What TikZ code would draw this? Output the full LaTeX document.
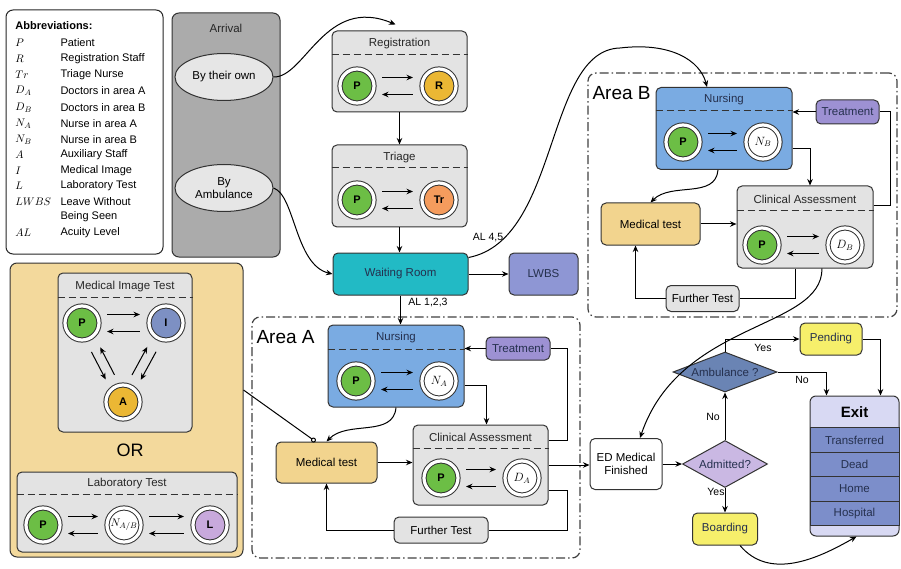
\documentclass[tikz,border=0pt]{standalone}
\usepackage{fontspec}
\setmainfont{Liberation Sans}
\usepackage{xcolor}
\usetikzlibrary{arrows.meta, shapes.geometric}

\definecolor{arrgray}{HTML}{ABABAB}
\definecolor{ellgray}{HTML}{E6E6E6}
\definecolor{boxgray}{HTML}{E3E3E3}
\definecolor{nurseblue}{HTML}{7AABE2}
\definecolor{waitteal}{HTML}{22BAC5}
\definecolor{lwbsblue}{HTML}{8E96D4}
\definecolor{treatpurple}{HTML}{9D91D3}
\definecolor{testtan}{HTML}{F2D48E}
\definecolor{paneltan}{HTML}{F3D99C}
\definecolor{pendyellow}{HTML}{F6EF6B}
\definecolor{ambblue}{HTML}{6A84B4}
\definecolor{admlilac}{HTML}{CAB8E3}
\definecolor{exithead}{HTML}{D8D9F3}
\definecolor{exitrow}{HTML}{7C8ECA}
\definecolor{ptgreen}{HTML}{6CBE45}
\definecolor{staffgold}{HTML}{EBB734}
\definecolor{triorange}{HTML}{F59C5D}
\definecolor{imgblue}{HTML}{7D90C3}
\definecolor{lablilac}{HTML}{C8A9DC}
\definecolor{navy}{HTML}{25304E}
\definecolor{edge}{HTML}{333333}

\begin{document}
\begin{tikzpicture}[x=1pt, y=-1pt, line width=1pt, every text node part/.style={align=center}, font=\fontsize{11.5}{13}\selectfont, >={Stealth[length=6.5pt, width=5.5pt]}]
			\tikzstyle{station} = [draw=edge, rectangle, rounded corners=5pt]
			\tikzstyle{boxtitle} = [text=black!85]
			\tikzstyle{divider} = [draw=edge, dash pattern=on 7pt off 4pt]
			\tikzstyle{actor} = [circle, draw=edge, double=white, double distance=3.2pt, minimum size=34pt, inner sep=0pt, font=\bfseries\fontsize{11}{13}\selectfont]
			\tikzstyle{fwd} = [draw, ->, shorten <=25pt, shorten >=26pt]
			\tikzstyle{bwd} = [draw, <-, shorten <=25pt, shorten >=26pt]
			\tikzstyle{area} = [draw=black!75, line width=1.2pt, rounded corners=8pt, dash pattern=on 9pt off 3pt on 1.5pt off 3pt]
			\tikzstyle{sym} = [anchor=west, inner sep=0pt, font=\fontsize{11}{13}\selectfont]
			\tikzstyle{lbl} = [font=\fontsize{10.5}{12}\selectfont]
			\useasboundingbox (0,0) rectangle (901,569);

			% abbreviations
			\path (84.5,132) node[station, draw=black!85, fill=white, rounded corners=7pt, minimum width=157pt, minimum height=244pt] (abbr) {};
			\path (15,26) node[sym, font=\bfseries\fontsize{11}{13}\selectfont] (abbrT) {Abbreviations:};
			\path (15,43) node[sym] (sP) {$P$};
			\path (60,43) node[sym] (tP) {Patient};
			\path (15,59) node[sym] (sR) {$R$};
			\path (60,59) node[sym] (tR) {Registration Staff};
			\path (15,75) node[sym] (sTr) {$Tr$};
			\path (60,75) node[sym] (tTr) {Triage Nurse};
			\path (15,91) node[sym] (sDA) {$D_A$};
			\path (60,91) node[sym] (tDA) {Doctors in area A};
			\path (15,107.5) node[sym] (sDB) {$D_B$};
			\path (60,107.5) node[sym] (tDB) {Doctors in area B};
			\path (15,123.5) node[sym] (sNA) {$N_A$};
			\path (60,123.5) node[sym] (tNA) {Nurse in area A};
			\path (15,139.5) node[sym] (sNB) {$N_B$};
			\path (60,139.5) node[sym] (tNB) {Nurse in area B};
			\path (15,155) node[sym] (sA) {$A$};
			\path (60,155) node[sym] (tA) {Auxiliary Staff};
			\path (15,170.5) node[sym] (sI) {$I$};
			\path (60,170.5) node[sym] (tI) {Medical Image};
			\path (15,186) node[sym] (sL) {$L$};
			\path (60,186) node[sym] (tL) {Laboratory Test};
			\path (15,201.5) node[sym] (sLW) {$LWBS$};
			\path (60,201.5) node[sym] (tLW) {Leave Without};
			\path (60,217) node[sym] (tLW2) {Being Seen};
			\path (15,233) node[sym] (sAL) {$AL$};
			\path (60,233) node[sym] (tAL) {Acuity Level};

			% arrival
			\path (226,135) node[station, fill=arrgray, rounded corners=7pt, minimum width=108pt, minimum height=244pt] (arrival) {};
			\path (226,28) node[boxtitle] (arrT) {Arrival};
			\path (224,77) node[draw=edge, ellipse, fill=ellgray, minimum width=98pt, minimum height=47pt, inner sep=0pt] (own) {By their own};
			\path (224,188) node[draw=edge, ellipse, fill=ellgray, minimum width=98pt, minimum height=47pt, inner sep=0pt] (byamb) {By\\Ambulance};

			% registration and triage
			\path (399.5,71.5) node[station, fill=boxgray, minimum width=135pt, minimum height=81pt] (reg) {};
			\path (399.5,44) node[boxtitle] (regT) {Registration};
			\path[divider] ([yshift=-24pt]reg.north west) -- ([yshift=-24pt]reg.north east);
			\path (357,86) node[actor, fill=ptgreen] (regP) {P};
			\path (439,86) node[actor, fill=staffgold] (regR) {R};
			\path (399.5,186) node[station, fill=boxgray, minimum width=135pt, minimum height=82pt] (tri) {};
			\path (399.5,158) node[boxtitle] (triT) {Triage};
			\path[divider] ([yshift=-23pt]tri.north west) -- ([yshift=-23pt]tri.north east);
			\path (357,200) node[actor, fill=ptgreen] (triP) {P};
			\path (439,200) node[actor, fill=triorange] (triTr) {Tr};
			\path (400.5,274) node[station, fill=waitteal, minimum width=135pt, minimum height=42pt, text=navy] (wait) {Waiting Room};
			\path (543.5,274) node[station, fill=lwbsblue, minimum width=69pt, minimum height=42pt, text=navy] (lwbs) {LWBS};

			% area A
			\path (416,437.5) node[area, minimum width=328pt, minimum height=241pt] (areaA) {};
			\path (256,337) node[anchor=west, inner sep=0pt, font=\fontsize{19}{22}\selectfont] (areaAT) {Area A};
			\path (396,366) node[station, fill=nurseblue, minimum width=136pt, minimum height=82pt] (nursA) {};
			\path (396,338) node[boxtitle, text=navy] (nursAT) {Nursing};
			\path[divider] ([yshift=-25pt]nursA.north west) -- ([yshift=-25pt]nursA.north east);
			\path (356,381) node[actor, fill=ptgreen] (nursAP) {P};
			\path (439,381) node[actor, fill=white, font=\fontsize{12}{13}\selectfont] (nursAN) {$N_A$};
			\path (518,348.5) node[station, fill=treatpurple, minimum width=64pt, minimum height=23pt, inner sep=0pt, text=navy] (treatA) {Treatment};
			\path (480.5,465) node[station, fill=boxgray, minimum width=135pt, minimum height=80pt] (clinA) {};
			\path (480.5,437) node[boxtitle] (clinAT) {Clinical Assessment};
			\path[divider] ([yshift=-24pt]clinA.north west) -- ([yshift=-24pt]clinA.north east);
			\path (441,478) node[actor, fill=ptgreen] (clinAP) {P};
			\path (522,478) node[actor, fill=white, font=\fontsize{12}{13}\selectfont] (clinAD) {$D_A$};
			\path (326.5,462.5) node[station, fill=testtan, minimum width=101pt, minimum height=41pt] (medA) {Medical test};
			\path (441,530) node[station, fill=boxgray, minimum width=94pt, minimum height=26pt, inner sep=0pt] (furA) {Further Test};

			% area B
			\path (742.5,195) node[area, minimum width=309pt, minimum height=244pt] (areaB) {};
			\path (592,93) node[anchor=west, inner sep=0pt, font=\fontsize{19}{22}\selectfont] (areaBT) {Area B};
			\path (724,128.5) node[station, fill=nurseblue, minimum width=136pt, minimum height=82pt] (nursB) {};
			\path (724,100) node[boxtitle, text=navy] (nursBT) {Nursing};
			\path[divider] ([yshift=-24pt]nursB.north west) -- ([yshift=-24pt]nursB.north east);
			\path (683,142) node[actor, fill=ptgreen] (nursBP) {P};
			\path (763,142) node[actor, fill=white, font=\fontsize{12}{13}\selectfont] (nursBN) {$N_B$};
			\path (847.5,112) node[station, fill=treatpurple, minimum width=63pt, minimum height=24pt, inner sep=0pt, text=navy] (treatB) {Treatment};
			\path (805,227) node[station, fill=boxgray, minimum width=136pt, minimum height=82pt] (clinB) {};
			\path (805,199) node[boxtitle] (clinBT) {Clinical Assessment};
			\path[divider] ([yshift=-25pt]clinB.north west) -- ([yshift=-25pt]clinB.north east);
			\path (762,245) node[actor, fill=ptgreen] (clinBP) {P};
			\path (845,245) node[actor, fill=white, font=\fontsize{12}{13}\selectfont] (clinBD) {$D_B$};
			\path (650.5,224) node[station, fill=testtan, minimum width=99pt, minimum height=42pt] (medB) {Medical test};
			\path (702.5,298.5) node[station, fill=boxgray, minimum width=73pt, minimum height=26pt, inner sep=0pt] (furB) {Further Test};

			% medical tests panel
			\path (126.5,410) node[station, fill=paneltan, rounded corners=7pt, minimum width=233pt, minimum height=294pt] (panel) {};
			\path (125,352.5) node[station, fill=boxgray, minimum width=134pt, minimum height=159pt] (imgBox) {};
			\path (125,287) node[boxtitle] (imgT) {Medical Image Test};
			\path[divider] ([yshift=-25pt]imgBox.north west) -- ([yshift=-25pt]imgBox.north east);
			\path (82,323) node[actor, fill=ptgreen] (imgP) {P};
			\path (166,323) node[actor, fill=imgblue] (imgI) {I};
			\path (123,402) node[actor, fill=staffgold] (imgA) {A};
			\path (130,450) node[font=\fontsize{18}{20}\selectfont] (orT) {OR};
			\path (127,512) node[station, fill=boxgray, minimum width=220pt, minimum height=80pt] (labBox) {};
			\path (127,484) node[boxtitle] (labT) {Laboratory Test};
			\path[divider] ([yshift=-23pt]labBox.north west) -- ([yshift=-23pt]labBox.north east);
			\path (43,525) node[actor, fill=ptgreen] (labP) {P};
			\path (124,525) node[actor, fill=white, font=\fontsize{11}{13}\selectfont] (labN) {$N_{A/B}$};
			\path (210,525) node[actor, fill=lablilac] (labL) {L};

			% discharge
			\path (626,464) node[station, fill=white, minimum width=72pt, minimum height=51pt] (ed) {ED Medical\\Finished};
			\path (725,464) node[draw=edge, diamond, aspect=1.8, fill=admlilac, minimum width=85pt, minimum height=47pt, inner sep=0pt, text=navy] (adm) {Admitted?};
			\path (725,372) node[draw=edge, diamond, aspect=2.6, fill=ambblue, minimum width=104pt, minimum height=40pt, inner sep=0pt, text=navy] (ambq) {Ambulance ?};
			\path (831,339) node[station, fill=pendyellow, minimum width=62pt, minimum height=32pt, text=navy] (pend) {Pending};
			\path (725,529) node[station, fill=pendyellow, minimum width=65pt, minimum height=32pt, text=navy] (board) {Boarding};
			\path (854.5,466) node[station, fill=exithead, rounded corners=6pt, minimum width=89pt, minimum height=140pt] (exit) {};
			\path (854.5,412) node[font=\bfseries\fontsize{15}{17}\selectfont] (exitT) {Exit};
			\path (854.5,440) node[draw=edge, fill=exitrow, minimum width=89pt, minimum height=24.5pt, text=navy] (exTr) {Transferred};
			\path (854.5,464.5) node[draw=edge, fill=exitrow, minimum width=89pt, minimum height=24.5pt, text=navy] (exDe) {Dead};
			\path (854.5,489) node[draw=edge, fill=exitrow, minimum width=89pt, minimum height=24.5pt, text=navy] (exHo) {Home};
			\path (854.5,513.5) node[draw=edge, fill=exitrow, minimum width=89pt, minimum height=24.5pt, text=navy] (exHp) {Hospital};

			% labels
			\path (488,238) node[lbl] (al45) {AL 4,5};
			\path (428,303) node[lbl] (al123) {AL 1,2,3};
			\path (763,348) node[lbl] (yesP) {Yes};
			\path (802,380) node[lbl] (noE) {No};
			\path (713,417) node[lbl] (noA) {No};
			\path (716,492) node[lbl] (yesB) {Yes};

			% staff interactions
			\path[fwd] ([yshift=8.5pt]regP.center) -- ([yshift=8.5pt]regR.center);
			\path[bwd] ([yshift=-8.5pt]regP.center) -- ([yshift=-8.5pt]regR.center);
			\path[fwd] ([yshift=8.5pt]triP.center) -- ([yshift=8.5pt]triTr.center);
			\path[bwd] ([yshift=-8.5pt]triP.center) -- ([yshift=-8.5pt]triTr.center);
			\path[fwd] ([yshift=8.5pt]nursAP.center) -- ([yshift=8.5pt]nursAN.center);
			\path[bwd] ([yshift=-8.5pt]nursAP.center) -- ([yshift=-8.5pt]nursAN.center);
			\path[fwd] ([yshift=8.5pt]clinAP.center) -- ([yshift=8.5pt]clinAD.center);
			\path[bwd] ([yshift=-8.5pt]clinAP.center) -- ([yshift=-8.5pt]clinAD.center);
			\path[fwd] ([yshift=8.5pt]nursBP.center) -- ([yshift=8.5pt]nursBN.center);
			\path[bwd] ([yshift=-8.5pt]nursBP.center) -- ([yshift=-8.5pt]nursBN.center);
			\path[fwd] ([yshift=8.5pt]clinBP.center) -- ([yshift=8.5pt]clinBD.center);
			\path[bwd] ([yshift=-8.5pt]clinBP.center) -- ([yshift=-8.5pt]clinBD.center);
			\path[fwd] ([yshift=8.5pt]imgP.center) -- ([yshift=8.5pt]imgI.center);
			\path[bwd] ([yshift=-8.5pt]imgP.center) -- ([yshift=-8.5pt]imgI.center);
			\path[fwd] ([yshift=8.5pt]labP.center) -- ([yshift=8.5pt]labN.center);
			\path[bwd] ([yshift=-8.5pt]labP.center) -- ([yshift=-8.5pt]labN.center);
			\path[fwd] ([yshift=8.5pt]labN.center) -- ([yshift=8.5pt]labL.center);
			\path[bwd] ([yshift=-8.5pt]labN.center) -- ([yshift=-8.5pt]labL.center);
			\path[draw, ->, shorten <=30pt, shorten >=28pt] ([xshift=-4.4pt, yshift=-2.3pt]imgP.center) -- ([xshift=-4.4pt, yshift=-2.3pt]imgA.center);
			\path[draw, <-, shorten <=30pt, shorten >=28pt] ([xshift=4.4pt, yshift=2.3pt]imgP.center) -- ([xshift=4.4pt, yshift=2.3pt]imgA.center);
			\path[draw, <-, shorten <=30pt, shorten >=28pt] ([xshift=-4.4pt, yshift=2.4pt]imgI.center) -- ([xshift=-4.4pt, yshift=2.4pt]imgA.center);
			\path[draw, ->, shorten <=30pt, shorten >=28pt] ([xshift=4.4pt, yshift=-2.4pt]imgI.center) -- ([xshift=4.4pt, yshift=-2.4pt]imgA.center);

			% flow
			\path[draw, ->] (own.east) .. controls (305,78) and (325,-5) .. ([xshift=-4pt, yshift=6pt]reg.north);
			\path[draw, ->] (byamb.east) .. controls (295,195) and (295,265) .. (wait.west);
			\path[draw, ->] (reg) -- (tri);
			\path[draw, ->] (tri.south) -- (tri.south |- wait.north);
			\path[draw, ->] (wait) -- (lwbs);
			\path[draw, ->] ([yshift=-5pt]wait.north east) .. controls (560,240) and (545,50) .. (620,48) .. controls (670,42) and (700,60) .. ([xshift=-17pt]nursB.north);
			\path[draw, ->] (wait.south) -- (wait.south |- nursA.north);

			\path[draw, ->] (treatA.west) -- (treatA.west -| nursA.east);
			\path[draw] ([yshift=25pt]clinA.east) -- ++(19,0) |- (treatA.east);
			\path[draw, ->] ([yshift=-19pt]nursA.east) -| ([xshift=6pt]clinA.north);
			\path[draw, ->] (nursA.south) to[out=-95, in=45] (medA.north);
			\path[draw, ->] (medA.east) -- (medA.east -| clinA.west);
			\path[draw] ([yshift=-25pt]clinA.east) -- ++(19,0) |- (furA.east);
			\path[draw, ->] (furA.west) -| (medA.south);
			\path[draw, ->] (clinA.east) -- (clinA.east -| ed.west);
			\path[draw, -{Circle[open, length=5pt]}] ([yshift=20pt]panel.east) -- ([xshift=-11pt]medA.north);

			\path[draw, ->] (treatB.west) -- (treatB.west -| nursB.east);
			\path[draw] ([yshift=21pt]clinB.east) -- ++(17,0) |- (treatB.east);
			\path[draw, ->] ([yshift=-20pt]nursB.east) -| ([xshift=5pt]clinB.north);
			\path[draw, ->] ([xshift=-6pt]nursB.south) to[out=-95, in=45] (medB.north);
			\path[draw, ->] (medB.east) -- (medB.east -| clinB.west);
			\path[draw] ([xshift=-10pt]clinB.south) |- (furB.east);
			\path[draw, ->] (furB.west) -| ([xshift=-15pt]medB.south);
			\path[draw, ->] ([xshift=17pt]clinB.south) .. controls (822,330) and (680,320) .. ([xshift=14pt]ed.north);

			\path[draw, ->] (ed) -- (adm);
			\path[draw, ->] (adm) -- (ambq);
			\path[draw, ->] (adm) -- (board);
			\path[draw, ->] (ambq.north) |- (pend.west);
			\path[draw, ->] (ambq.east) -| ([xshift=17pt]exit.north west);
			\path[draw, ->] (pend.east) -| ([xshift=71pt]exit.north west);
			\path[draw, ->] ([xshift=15pt]board.south) to[out=-50, in=-150] ([xshift=47pt]exit.south west);
		\end{tikzpicture}
\end{document}
